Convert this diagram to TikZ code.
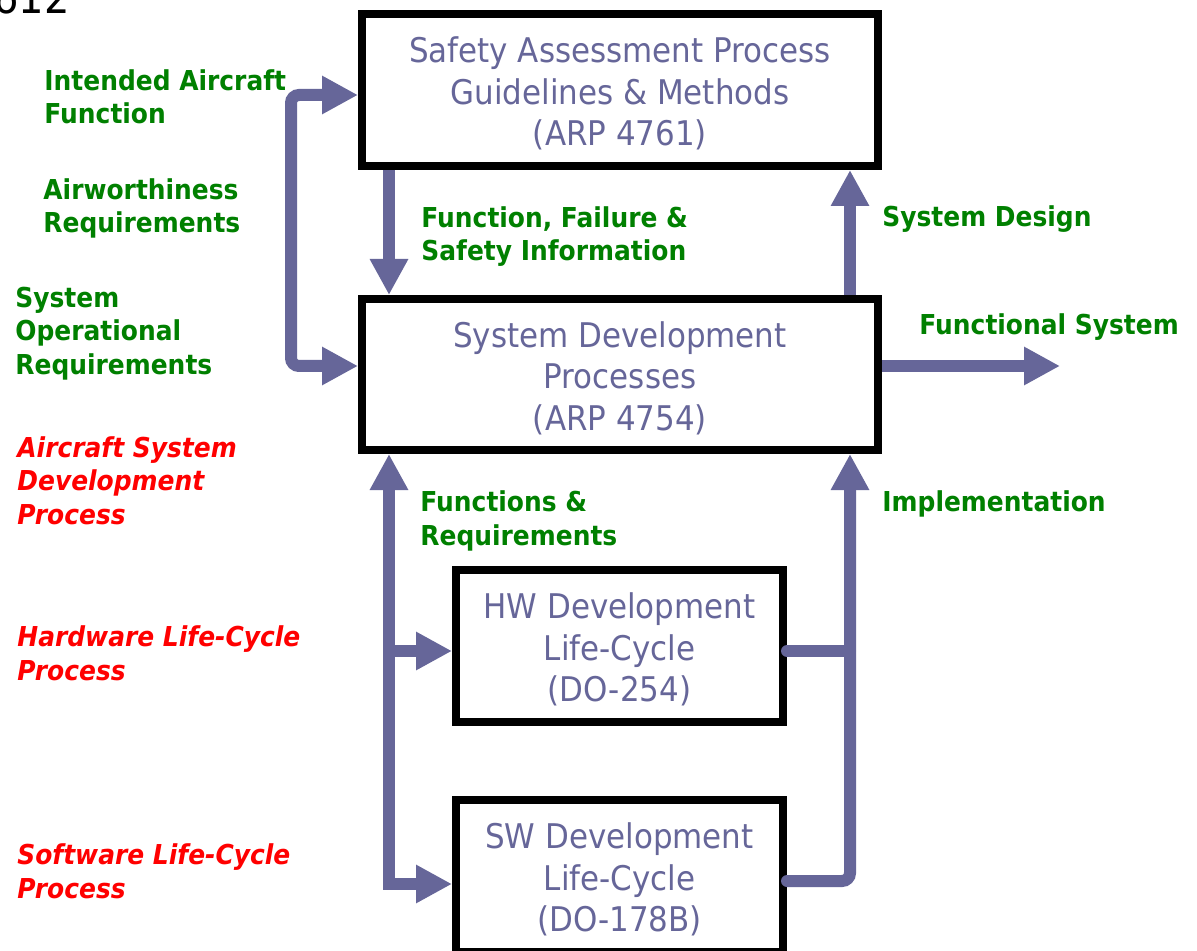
\documentclass[tikz,border=0pt]{standalone}
\usepackage{fontspec}
\setmainfont{DejaVu Sans}[FakeStretch=0.91]
\usetikzlibrary{arrows.meta}
\definecolor{flowc}{RGB}{102,102,153}
\definecolor{boxtxt}{RGB}{102,102,153}
\definecolor{lgreen}{RGB}{0,128,0}
\definecolor{lred}{RGB}{255,0,0}
\begin{document}
\begin{tikzpicture}[x=0.5pt,y=-0.5pt,
  procbox/.style={draw=black, line width=4pt, fill=white, minimum width=#1,
    minimum height=76pt, inner sep=0pt},
  boxtext/.style={inner sep=0pt, align=center, text=boxtxt, yshift=-1.75pt,
    font=\fontsize{17pt}{20.75pt}\selectfont},
  flow/.style={draw=flowc, line width=6pt},
  tipend/.style={-{Triangle[length=18pt,width=18pt]}},
  tipboth/.style={{Triangle[length=18pt,width=18pt]}-{Triangle[length=18pt,width=18pt]}},
  glabel/.style={anchor=base west, text=lgreen, inner sep=0pt, align=left,
    font=\fontsize{13.7pt}{16.85pt}\selectfont\bfseries},
  rlabel/.style={anchor=base west, text=lred, inner sep=0pt, align=left,
    font=\fontsize{13.7pt}{16.85pt}\selectfont\bfseries\itshape}
]
\useasboundingbox[fill=white] (0,0) rectangle (1197,951);

% page number fragment
\node[anchor=base east, inner sep=0pt, font=\fontsize{22pt}{22pt}\selectfont] (pg) at (70,14) {612};

% boxes
\node[procbox=258pt] (top) at (620,90) {};
\node[procbox=258pt, minimum height=75.5pt] (mid) at (620,374.5) {};
\node[procbox=163.5pt] (hw) at (619.5,646) {};
\node[procbox=163.5pt] (sw) at (619.5,876) {};
\node[boxtext] (topt) at (top.center) {Safety Assessment Process\\Guidelines \& Methods\\(ARP 4761)};
\node[boxtext] (midt) at (mid.center) {System Development\\Processes\\(ARP 4754)};
\node[boxtext] (hwt) at (hw.center) {HW Development\\Life-Cycle\\(DO-254)};
\node[boxtext] (swt) at (sw.center) {SW Development\\Life-Cycle\\(DO-178B)};

% helper coordinates
\coordinate (xbr) at (291,0);
\coordinate (xl) at (389,0);
\coordinate (xr) at (850,0);
\coordinate (ytop) at (0,95);
\coordinate (ymid) at (0,366);
\coordinate (yhw) at (0,651);
\coordinate (yswl) at (0,884);
\coordinate (yswr) at (0,881);
\coordinate (fsend) at (1060,366);

% connectors
\draw[flow, tipboth, rounded corners=4pt] (top.west |- ytop) -- (xbr |- ytop) -- (xbr |- ymid) -- (mid.west |- ymid);
\draw[flow, tipend] (top.south -| xl) -- (mid.north -| xl);
\draw[flow, tipend] (mid.north -| xr) -- (top.south -| xr);
\draw[flow, tipend] (mid.east |- ymid) -- (fsend);
\draw[flow, tipboth] (sw.west |- yswl) -- (xl |- yswl) -- (mid.south -| xl);
\draw[flow, tipend] (xl |- yhw) -- (hw.west |- yhw);
\draw[flow, line cap=round] (hw.east |- yhw) -- (xr |- yhw);
\draw[flow, tipend, line cap=round, rounded corners=4pt] (sw.east |- yswr) -- (xr |- yswr) -- (mid.south -| xr);

% labels (anchor = baseline of the last line)
\node[glabel] (l1) at (44,124) {Intended Aircraft\\Function};
\node[glabel] (l2) at (43,233) {Airworthiness\\Requirements};
\node[glabel] (l3) at (15,374.5) {System\\Operational\\Requirements};
\node[rlabel] (l4) at (17,524.5) {Aircraft System\\Development\\Process};
\node[rlabel] (l5) at (17,680) {Hardware Life-Cycle\\Process};
\node[rlabel] (l6) at (17,898) {Software Life-Cycle\\Process};
\node[glabel] (l7) at (421,261) {Function, Failure \&\\Safety Information};
\node[glabel] (l8) at (882,227) {System Design};
\node[glabel] (l9) at (919,335) {Functional System};
\node[glabel] (l10) at (420,545) {Functions \&\\Requirements};
\node[glabel] (l11) at (882,511) {Implementation};
\end{tikzpicture}
\end{document}
